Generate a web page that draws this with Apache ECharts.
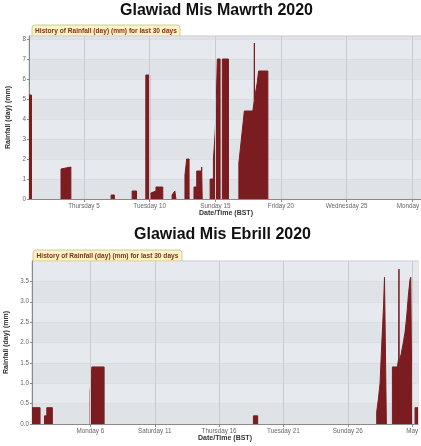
<!DOCTYPE html>
<html>
<head>
<meta charset="utf-8">
<script src="https://cdn.jsdelivr.net/npm/echarts@6/dist/echarts.min.js"></script>
<style>
html,body{margin:0;padding:0;background:#ffffff;}
#c{width:421px;height:446px;}
</style>
</head>
<body>
<div id="c"></div>
<script>
// ---------- DATA ----------
const marchTitle = 'Glawiad Mis Mawrth 2020';
const aprilTitle = 'Glawiad Mis Ebrill 2020';
const tabText = 'History of Rainfall (day) (mm) for last 30 days';
const yAxisName = 'Rainfall (day) (mm)';
const xAxisName = 'Date/Time (BST)';

const marchRange = ['2020-02-29 19:30', '2020-03-30 19:30'];
const marchTickDates = ['2020-03-05', '2020-03-10', '2020-03-15', '2020-03-20', '2020-03-25', '2020-03-30'];
const marchTickLabels = ['Thursday 5', 'Tuesday 10', 'Sunday 15', 'Friday 20', 'Wednesday 25', 'Monday 30'];
const marchTimes = [
  '2020-02-29 19:30','2020-03-01 00:00','2020-03-01 00:00',
  '2020-03-03 06:00','2020-03-03 06:00','2020-03-03 08:00','2020-03-04 00:00','2020-03-04 00:00',
  '2020-03-07 01:30','2020-03-07 01:30','2020-03-07 07:30','2020-03-07 07:30',
  '2020-03-08 16:00','2020-03-08 16:00','2020-03-09 00:00','2020-03-09 00:00',
  '2020-03-09 17:00','2020-03-09 17:00','2020-03-10 00:00','2020-03-10 00:00',
  '2020-03-10 02:30','2020-03-10 02:30','2020-03-10 04:00','2020-03-10 11:30','2020-03-10 11:30','2020-03-11 00:00','2020-03-11 00:00',
  '2020-03-11 17:00','2020-03-11 17:00','2020-03-11 22:00','2020-03-12 00:00','2020-03-12 00:00',
  '2020-03-12 16:30','2020-03-12 16:30','2020-03-12 19:40','2020-03-12 19:40','2020-03-13 00:00','2020-03-13 00:00',
  '2020-03-13 09:00','2020-03-13 09:00','2020-03-13 14:00','2020-03-13 14:00','2020-03-13 23:00','2020-03-13 23:00','2020-03-14 00:00','2020-03-14 00:00',
  '2020-03-14 14:30','2020-03-14 14:30','2020-03-14 20:30','2020-03-14 20:30','2020-03-14 22:30','2020-03-15 00:00','2020-03-15 02:00','2020-03-15 03:40','2020-03-15 08:40','2020-03-15 08:40',
  '2020-03-15 12:50','2020-03-15 12:50','2020-03-16 00:00','2020-03-16 00:00',
  '2020-03-16 19:00','2020-03-16 19:00','2020-03-16 22:20','2020-03-17 05:00','2020-03-17 20:30','2020-03-17 23:00','2020-03-17 23:20','2020-03-17 23:40','2020-03-18 02:00','2020-03-18 04:30','2020-03-18 07:10','2020-03-19 00:00','2020-03-19 00:00',
  '2020-03-30 19:30'
];
const marchRain = [
  5.2,5.2,0,
  0,1.5,1.6,1.6,0,
  0,0.2,0.2,0,
  0,0.4,0.4,0,
  0,6.2,6.2,0,
  0,0.3,0.4,0.4,0.6,0.6,0,
  0,0.2,0.4,0.4,0,
  0,1.2,1.2,2.0,2.0,0,
  0,0.6,0.6,1.4,1.4,1.6,1.6,0,
  0,1.0,1.0,2.0,2.8,3.5,5.2,7.0,7.0,0,
  0,7.0,7.0,0,
  0,1.8,1.8,4.4,4.4,4.9,7.8,5.0,5.4,5.8,6.4,6.4,0,
  0
];

const aprilRange = ['2020-04-01 11:00', '2020-05-01 11:00'];
const aprilTickDates = ['2020-04-06', '2020-04-11', '2020-04-16', '2020-04-21', '2020-04-26', '2020-05-01'];
const aprilTickLabels = ['Monday 6', 'Saturday 11', 'Thursday 16', 'Tuesday 21', 'Sunday 26', 'May'];
const aprilTimes = [
  '2020-04-01 11:00','2020-04-02 02:00','2020-04-02 02:00',
  '2020-04-02 10:20','2020-04-02 10:20','2020-04-02 14:40','2020-04-02 14:40','2020-04-03 01:00','2020-04-03 01:00',
  '2020-04-05 23:30','2020-04-05 23:30','2020-04-06 02:40','2020-04-06 02:40','2020-04-07 01:30','2020-04-07 01:30',
  '2020-04-18 16:00','2020-04-18 16:00','2020-04-19 00:00','2020-04-19 00:00',
  '2020-04-28 06:00','2020-04-28 06:00','2020-04-28 09:00','2020-04-28 12:15','2020-04-28 14:30','2020-04-28 17:00','2020-04-28 18:45','2020-04-28 20:30','2020-04-29 00:00','2020-04-29 00:00',
  '2020-04-29 11:15','2020-04-29 11:15','2020-04-29 20:25','2020-04-29 23:00','2020-04-29 23:30','2020-04-30 00:00',
  '2020-04-30 01:00','2020-04-30 03:20','2020-04-30 07:40','2020-04-30 10:50','2020-04-30 14:00','2020-04-30 17:00','2020-04-30 20:10','2020-04-30 21:30','2020-05-01 00:00','2020-05-01 00:00',
  '2020-05-01 05:30','2020-05-01 05:30','2020-05-01 11:00'
];
const aprilRain = [
  0.4,0.4,0,
  0,0.2,0.2,0.4,0.4,0,
  0,0.8,0.8,1.4,1.4,0,
  0,0.2,0.2,0,
  0,0.3,0.6,1.0,1.7,2.4,2.9,3.6,3.6,0,
  0,1.4,1.4,1.6,3.8,0.3,
  1.6,1.7,2.0,2.25,2.65,3.15,3.55,3.6,3.6,0,
  0,0.4,0.4
];

// ---------- HELPERS ----------
function parseT(s) {
  const [d, t] = s.split(' ');
  const [Y, M, D] = d.split('-').map(Number);
  let h = 0, m = 0;
  if (t) { [h, m] = t.split(':').map(Number); }
  return new Date(Y, M - 1, D, h, m).getTime();
}
// build [time, value] pairs; break the line between dry (zero) stretches
function pairs(times, vals) {
  const out = [];
  times.forEach((t, i) => {
    const x = parseT(t);
    if (i > 0 && vals[i] === 0 && vals[i - 1] === 0) out.push([x, '-']);
    out.push([x, vals[i]]);
  });
  return out;
}
function labelMap(dates, labels) {
  const m = {};
  dates.forEach((d, i) => { m[parseT(d)] = labels[i]; });
  return m;
}

const FONT = 'Liberation Sans';
const RED = '#7a1c20';
const marchLabels = labelMap(marchTickDates, marchTickLabels);
const aprilLabels = labelMap(aprilTickDates, aprilTickLabels);

function xAxisCfg(gridIndex, range, tickDates, lmap) {
  const vals = tickDates.map(parseT);
  return {
    type: 'value', gridIndex: gridIndex, z: 10, scale: true,
    min: parseT(range[0]), max: parseT(range[1]),
    name: xAxisName, nameLocation: 'middle', nameGap: 10,
    nameTextStyle: { fontFamily: FONT, fontSize: 7, fontWeight: 'bold', color: '#333' },
    axisLine: { show: true, onZero: false, lineStyle: { color: '#8a8a8a', width: 1 } },
    axisTick: { show: true, customValues: vals, length: 3, lineStyle: { color: '#8a8a8a' } },
    axisLabel: {
      customValues: vals, margin: 4, fontFamily: FONT, fontSize: 6.3, color: '#666',
      formatter: v => lmap[v] || ''
    },
    splitLine: { show: true, lineStyle: { color: '#c9cdd2', width: 1 } }
  };
}
function yAxisCfg(gridIndex, max, interval, decimals) {
  return {
    type: 'value', gridIndex: gridIndex, min: 0, max: max, interval: interval,
    name: yAxisName, nameLocation: 'middle', nameGap: decimals ? 19 : 15,
    nameTextStyle: { fontFamily: FONT, fontSize: 7, fontWeight: 'bold', color: '#333' },
    axisLine: { show: true, lineStyle: { color: '#8a8a8a' } },
    axisTick: { show: true, length: 2, lineStyle: { color: '#8a8a8a' } },
    axisLabel: {
      margin: 3, fontFamily: FONT, fontSize: 6.3, color: '#666', showMaxLabel: false,
      formatter: v => v.toFixed(decimals)
    },
    splitLine: { show: true, lineStyle: { color: '#d3d7dc', width: 0.6 } },
    splitArea: { show: true, areaStyle: { color: ['#dfe3e7', '#e6e9ed'] } }
  };
}
function tab(x, y, w) {
  return {
    type: 'group', children: [
      { type: 'rect', shape: { x: x, y: y, width: w, height: 11, r: [3, 3, 0, 0] },
        style: { fill: '#fbf4c4', stroke: '#c9bd8c', lineWidth: 0.8 } },
      { type: 'text', x: x + w / 2, y: y + 5.8,
        style: { text: tabText, align: 'center', verticalAlign: 'middle',
                 font: 'bold 6.6px ' + FONT, fill: '#8a2a1c' } }
    ]
  };
}

const chart = echarts.init(document.getElementById('c'), null, { renderer: 'canvas' });
chart.setOption({
  animation: false,
  backgroundColor: '#ffffff',
  grid: [
    { left: 29, top: 36, width: 394, height: 163, outerBoundsMode: 'none', containLabel: false, show: true, backgroundColor: '#e4e8ec', borderColor: '#c2c6cb', borderWidth: 1 },
    { left: 32, top: 261, width: 386, height: 163, outerBoundsMode: 'none', containLabel: false, show: true, backgroundColor: '#e4e8ec', borderColor: '#c2c6cb', borderWidth: 1 }
  ],
  xAxis: [
    xAxisCfg(0, marchRange, marchTickDates, marchLabels),
    xAxisCfg(1, aprilRange, aprilTickDates, aprilLabels)
  ],
  yAxis: [
    yAxisCfg(0, 8.15, 1, 0),
    yAxisCfg(1, 4, 0.5, 1)
  ],
  series: [
    { type: 'line', xAxisIndex: 0, yAxisIndex: 0, data: pairs(marchTimes, marchRain),
      showSymbol: false, symbol: 'none', connectNulls: false, lineStyle: { color: RED, width: 1 },
      areaStyle: { color: RED, opacity: 1 } },
    { type: 'line', xAxisIndex: 1, yAxisIndex: 1, data: pairs(aprilTimes, aprilRain),
      showSymbol: false, symbol: 'none', connectNulls: false, lineStyle: { color: RED, width: 1 },
      areaStyle: { color: RED, opacity: 1 } }
  ],
  graphic: [
    { type: 'text', x: 216.5, y: 11, style: { text: marchTitle, align: 'center', verticalAlign: 'middle', font: 'bold 16px ' + FONT, fill: '#111' } },
    { type: 'text', x: 222.5, y: 235, style: { text: aprilTitle, align: 'center', verticalAlign: 'middle', font: 'bold 16px ' + FONT, fill: '#111' } },
    tab(32, 25, 148),
    tab(33, 250, 149)
  ]
});
</script>
</body>
</html>
